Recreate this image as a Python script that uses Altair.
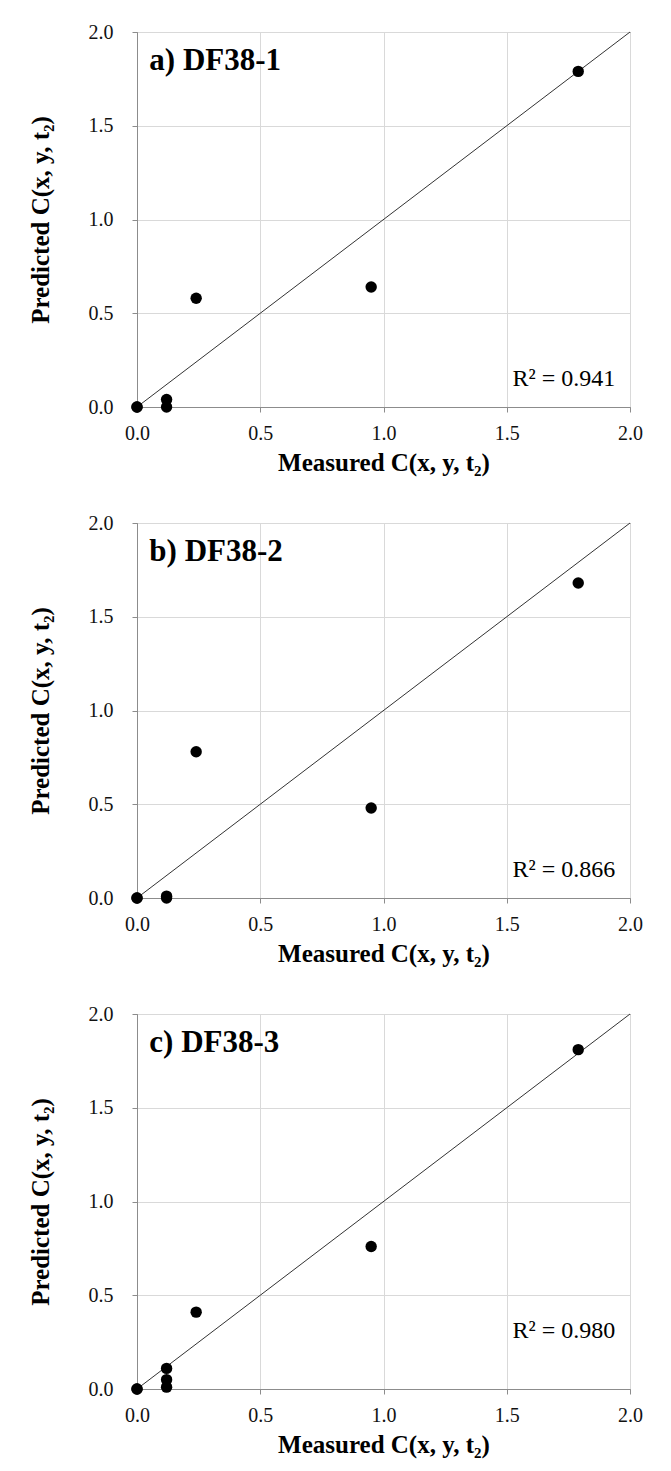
import altair as alt
import pandas as pd

# ---- data ----
panel_labels = ["a) DF38-1", "b) DF38-2", "c) DF38-3"]
r2_labels = ["R² = 0.941", "R² = 0.866", "R² = 0.980"]

measured_a = [0.0, 0.0, 0.12, 0.12, 0.24, 0.95, 1.79]
predicted_a = [0.0, 0.0, 0.0, 0.04, 0.58, 0.64, 1.79]

measured_b = [0.0, 0.0, 0.12, 0.12, 0.24, 0.95, 1.79]
predicted_b = [0.0, 0.0, 0.0, 0.01, 0.78, 0.48, 1.68]

measured_c = [0.0, 0.0, 0.12, 0.12, 0.12, 0.24, 0.95, 1.79]
predicted_c = [0.0, 0.0, 0.01, 0.05, 0.11, 0.41, 0.76, 1.81]

one_to_one = [0.0, 2.0]
tick_values = [0.0, 0.5, 1.0, 1.5, 2.0]

measured = [measured_a, measured_b, measured_c]
predicted = [predicted_a, predicted_b, predicted_c]

# annotation anchors (data coordinates)
label_pos = (0.05, 1.845)
r2_x = 1.94
r2_y = [0.15, 0.15, 0.31]

FONT = "Liberation Serif"


def panel(i):
    pts = pd.DataFrame({"measured": measured[i], "predicted": predicted[i]})
    line = pd.DataFrame({"measured": one_to_one, "predicted": one_to_one})

    xs = alt.Scale(domain=[0, 2], nice=False)
    ys = alt.Scale(domain=[0, 2], nice=False)
    x_axis = alt.Axis(
        values=tick_values, format=".1f", title="Measured C(x, y, t₂)",
        labelPadding=11, titlePadding=7, labelFlush=False,
    )
    y_axis = alt.Axis(
        values=tick_values, format=".1f", title="Predicted C(x, y, t₂)",
        labelPadding=19, titlePadding=35, labelFlush=False,
    )

    base_x = alt.X("measured:Q", scale=xs, axis=x_axis)
    base_y = alt.Y("predicted:Q", scale=ys, axis=y_axis)

    diag = alt.Chart(line).mark_line(color="#333333", strokeWidth=1).encode(
        x=base_x, y=base_y
    )
    dots = alt.Chart(pts).mark_circle(size=130, color="black", opacity=1).encode(
        x="measured:Q", y="predicted:Q"
    )
    lab = alt.Chart(pd.DataFrame({"t": [panel_labels[i]]})).mark_text(
        align="left", baseline="middle", font=FONT, fontSize=31,
        fontWeight="bold", color="black",
    ).encode(x=alt.datum(label_pos[0]), y=alt.datum(label_pos[1]), text="t:N")
    r2 = alt.Chart(pd.DataFrame({"t": [r2_labels[i]]})).mark_text(
        align="right", baseline="middle", font=FONT, fontSize=24,
        color="black",
    ).encode(x=alt.datum(r2_x), y=alt.datum(r2_y[i]), text="t:N")

    return alt.layer(diag, dots, lab, r2).properties(width=493, height=375)


chart = alt.vconcat(panel(0), panel(1), panel(2), spacing=36).properties(
    padding={"left": 19, "top": 13, "right": 5, "bottom": 5}
).configure(
    background="white"
).configure_view(
    stroke="black", strokeWidth=1
).configure_axis(
    grid=True, gridColor="#d9d9d9", gridWidth=1,
    domainColor="#8c8c8c", tickColor="#8c8c8c", tickSize=5,
    labelFont=FONT, labelFontSize=20, labelColor="#111111",
    titleFont=FONT, titleFontSize=25, titleFontWeight="bold", titleColor="black",
)

chart.save("out.html", embed_options={"renderer": "svg", "actions": False})
